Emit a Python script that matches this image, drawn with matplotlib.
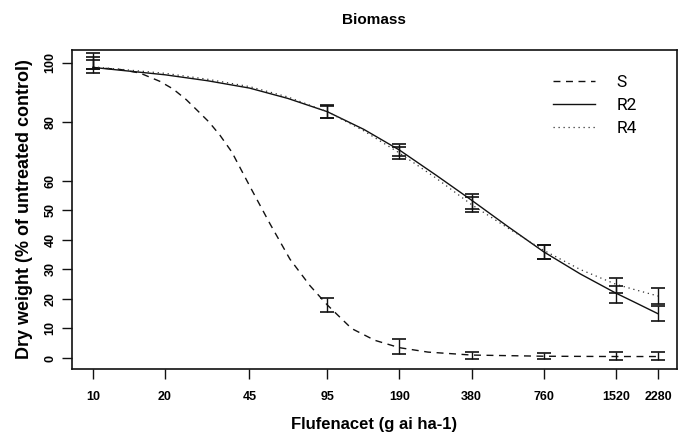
import matplotlib
matplotlib.use("Agg")
import matplotlib.pyplot as plt
from matplotlib.ticker import FixedLocator, NullLocator

# Doses (g ai ha-1) with measured means and error bars
doses = [10, 95, 190, 380, 760, 1520, 2280]
s_mean = [100.0, 18.0, 4.0, 1.0, 0.7, 0.7, 0.7]
s_err = [3.4, 2.5, 2.5, 1.2, 1.0, 1.3, 1.3]
r2_mean = [99.5, 83.5, 70.5, 53.0, 36.0, 21.5, 15.0]
r2_err = [1.5, 2.3, 2.0, 2.5, 2.3, 3.0, 2.5]
r4_mean = [100.0, 83.5, 69.5, 52.0, 36.0, 24.5, 21.0]
r4_err = [2.0, 2.0, 2.0, 2.5, 2.3, 2.5, 2.8]

# Fitted curves
s_curve_x = [10, 13, 15.7, 19, 21.6, 24.5, 27.2, 30.5, 33.9, 38, 45.3, 54.8, 66.4, 80.5, 95, 120, 150, 190, 250, 380, 760, 1520, 2280]
s_curve_y = [98.5, 97.8, 96.6, 93.8, 91.2, 87.6, 84, 80, 75.5, 69.8, 58, 45.5, 33.5, 24.5, 18, 10, 6, 3.5, 2, 1, 0.6, 0.5, 0.5]
r2_curve_x = [10, 20, 30, 45, 65, 95, 135, 190, 270, 380, 540, 760, 1080, 1520, 1800, 2280]
r2_curve_y = [98.5, 96, 94, 91.5, 88, 83.5, 77.5, 70.5, 62, 53.5, 44.5, 36, 28.5, 22, 19.1, 15]
r4_curve_x = [10, 20, 30, 45, 65, 95, 135, 190, 270, 380, 540, 760, 1080, 1520, 1800, 2280]
r4_curve_y = [98.7, 96.5, 94.5, 92, 88.5, 83.5, 77, 69.5, 61, 52, 44, 36.5, 30, 25, 23.3, 21]

xticks = [10, 20, 45, 95, 190, 380, 760, 1520, 2280]
yticks = [0, 10, 20, 30, 40, 50, 60, 80, 100]

narrow = ['Liberation Sans Narrow', 'Liberation Sans', 'DejaVu Sans']
plt.rcParams['font.family'] = ['Liberation Sans', 'DejaVu Sans']

fig = plt.figure(figsize=(6.78, 4.33), dpi=100)
ax = fig.add_axes([0.106, 0.148, 0.8925, 0.7365])

lc = '#111111'
l1, = ax.plot(s_curve_x, s_curve_y, color=lc, lw=1.0, ls=(0, (5, 4)), label='S')
l2, = ax.plot(r2_curve_x, r2_curve_y, color=lc, lw=1.0, ls='-', label='R2')
l3, = ax.plot(r4_curve_x, r4_curve_y, color='#333333', lw=0.9, ls=(0, (1, 3)), label='R4')

for m, e in [(s_mean, s_err), (r2_mean, r2_err), (r4_mean, r4_err)]:
    ax.errorbar(doses, m, yerr=e, fmt='none', ecolor=lc, elinewidth=1.0,
                capsize=5, capthick=1.2)

ax.set_xscale('log')
ax.set_xlim(8.17, 2735)
ax.set_ylim(-3.7, 104.4)
ax.xaxis.set_major_locator(FixedLocator(xticks))
ax.xaxis.set_minor_locator(NullLocator())
ax.set_xticklabels([str(t) for t in xticks])
ax.set_yticks(yticks)
ax.set_yticklabels([str(t) for t in yticks], rotation=90, va='center')

for lab in ax.get_xticklabels() + ax.get_yticklabels():
    lab.set_family(narrow)
    lab.set_fontweight('bold')
    lab.set_fontsize(9)

ax.tick_params(axis='both', direction='out', length=7, width=1.0, color=lc)
ax.tick_params(axis='x', pad=9)
ax.tick_params(axis='y', pad=4)
for sp in ax.spines.values():
    sp.set_linewidth(1.2)
    sp.set_color(lc)

ax.set_title('Biomass', fontsize=11, fontweight='bold', pad=19)
ax.set_xlabel('Flufenacet (g ai ha-1)', fontsize=12, fontweight='bold', labelpad=10)
ax.set_ylabel('Dry weight (% of untreated control)', fontsize=13, fontweight='bold', labelpad=8)

ax.legend(handles=[l1, l2, l3], frameon=False, loc='upper left',
          bbox_to_anchor=(0.77, 0.97), handlelength=2.4, handletextpad=1.25,
          labelspacing=0.45, prop={'family': 'Roboto', 'size': 12.5})

fig.savefig('out.png', dpi=100)
